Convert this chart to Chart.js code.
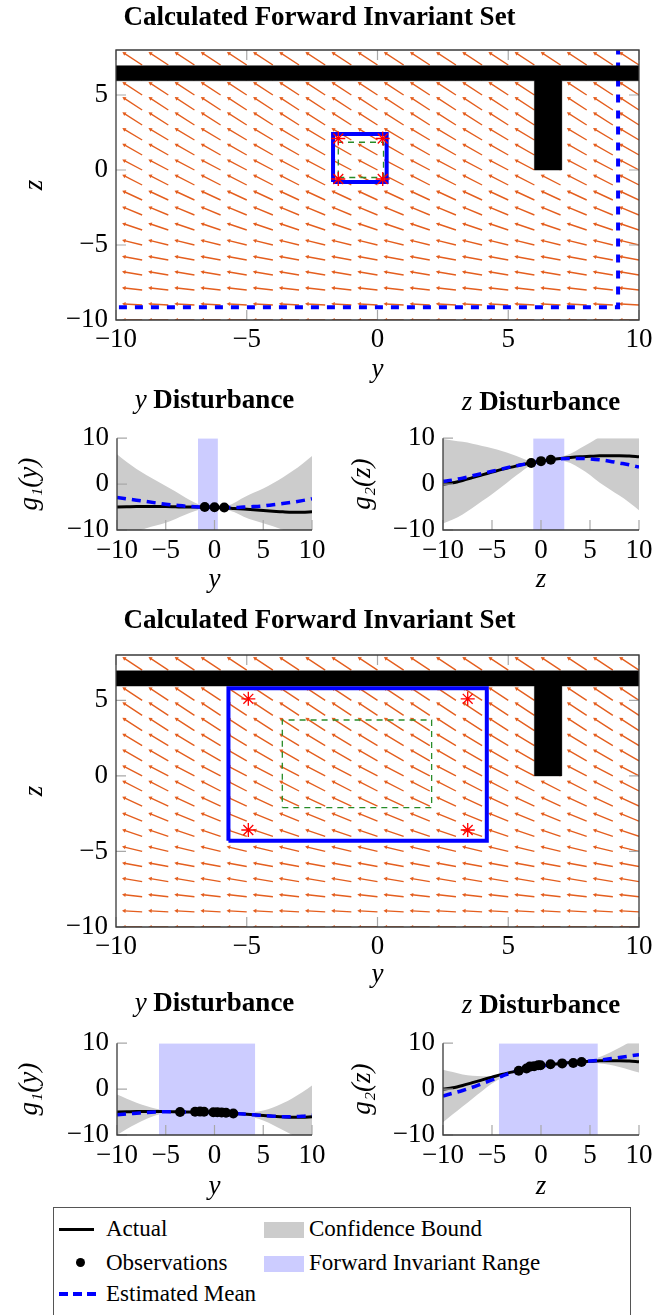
<!DOCTYPE html>
<html>
<head>
<meta charset="utf-8">
<script src="https://cdn.jsdelivr.net/npm/chart.js@4.4.1/dist/chart.umd.min.js"></script>
<style>
  body { margin: 0; background: #fff; }
  #page { position: relative; width: 668px; height: 1315px; overflow: hidden; font-family: 'Liberation Serif', serif; color: #000; }
  .box { position: absolute; }
  .ptitle { position: absolute; text-align: center; font-size: 27px; line-height: 30px; white-space: nowrap; }
  .ptitle b { font-weight: bold; }
  #legend { position: absolute; left: 53px; top: 1207px; width: 578px; height: 130px; border: 1px solid #555; box-sizing: border-box; font-size: 23px; }
  #legend .t { position: absolute; line-height: 28px; white-space: nowrap; }
  #legend .sw { position: absolute; }
</style>
</head>
<body>
<div id="page">
  <div class="box" style="left:0;top:0;width:668px;height:390px"><canvas id="inv1"></canvas></div>
  <div class="ptitle" style="left:117px;top:384px;width:195px"><i>y</i> <b>Disturbance</b></div>
  <div class="ptitle" style="left:443px;top:386px;width:196px"><i>z</i> <b>Disturbance</b></div>
  <div class="box" style="left:0;top:414px;width:334px;height:186px"><canvas id="g1a"></canvas></div>
  <div class="box" style="left:334px;top:414px;width:334px;height:186px"><canvas id="g2a"></canvas></div>

  <div class="box" style="left:0;top:603px;width:668px;height:394px"><canvas id="inv2"></canvas></div>
  <div class="ptitle" style="left:117px;top:987px;width:195px"><i>y</i> <b>Disturbance</b></div>
  <div class="ptitle" style="left:443px;top:989px;width:196px"><i>z</i> <b>Disturbance</b></div>
  <div class="box" style="left:0;top:1019px;width:334px;height:186px"><canvas id="g1b"></canvas></div>
  <div class="box" style="left:334px;top:1019px;width:334px;height:186px"><canvas id="g2b"></canvas></div>

  <div id="legend">
    <div class="sw" style="left:5px;top:20px;width:35px;height:3px;background:#000"></div>
    <div class="t" style="left:52px;top:7px">Actual</div>
    <div class="sw" style="left:22px;top:50px;width:9px;height:9px;border-radius:50%;background:#000"></div>
    <div class="t" style="left:52px;top:41px">Observations</div>
    <div class="sw" style="left:5px;top:84px;width:37px;height:4px;background:repeating-linear-gradient(to right,#0000ff 0 9px,transparent 9px 14px)"></div>
    <div class="t" style="left:52px;top:72px">Estimated Mean</div>
    <div class="sw" style="left:210px;top:14px;width:40px;height:16px;background:rgb(204,204,204)"></div>
    <div class="t" style="left:255px;top:7px">Confidence Bound</div>
    <div class="sw" style="left:210px;top:48px;width:40px;height:16px;background:rgb(204,204,255)"></div>
    <div class="t" style="left:255px;top:41px">Forward Invariant Range</div>
  </div>
</div>

<script>
// ---- quiver field (same for both invariant-set plots)
const quiverCols = [-9, -8, -7, -6, -5, -4, -3, -2, -1, 0, 1, 2, 3, 4, 5, 6, 7, 8, 9, 10];
const quiverRows = [-10, -9, -8, -7, -6, -5, -4, -3, -2, -1, 0, 1, 2, 3, 4, 5, 6, 7];
const quiverDz = [0, 0.07, 0.13, 0.2, 0.22, 0.29, 0.4, 0.49, 0.55, 0.61, 0.62, 0.67, 0.71, 0.76, 0.78, 0.78, 0.78, 0.78];
const quiverDy = -0.68;

// obstacle (T shape)
const barZ = [5.95, 6.95];
const stemY = [6, 7.04];
const stemBottom = 0;

// first run
const box1Y = [-1.7, 0.35];
const box1Z = [-0.8, 2.4];
const green1Y = [-1.5, 0.23];
const green1Z = [-0.5, 1.85];
const star1Y = [-1.5, 0.2];
const star1Z = [-0.6, 2.1];
const est1Y = [-10.5, 9.2];
const est1Z = [-9.15, 8.5];

// second run
const box2Y = [-5.7, 4.18];
const box2Z = [-4.3, 5.8];
const green2Y = [-3.64, 2.07];
const green2Z = [-2.1, 3.7];
const star2Y = [-4.94, 3.45];
const star2Z = [-3.58, 5.1];

// ---- disturbance plots
const xGrid = [-10, -9, -8, -7, -6, -5, -4, -3, -2, -1, 0, 1, 2, 3, 4, 5, 6, 7, 8, 9, 10];
const g1True = [-5.0, -4.95, -4.9, -4.9, -4.9, -4.9, -4.95, -5.0, -5.0, -5.05, -5.1, -5.15, -5.3, -5.45, -5.6, -5.75, -5.9, -6.05, -6.15, -6.15, -6.05];
const g2True = [0, 0.3, 0.8, 1.4, 2.0, 2.6, 3.2, 3.7, 4.2, 4.6, 5.0, 5.3, 5.6, 5.8, 5.95, 6.05, 6.15, 6.2, 6.2, 6.1, 5.95];

const g1MeanA = [-2.9, -3.2, -3.5, -3.8, -4.1, -4.4, -4.6, -4.8, -4.95, -5.0, -5.05, -5.1, -5.1, -5.0, -4.9, -4.75, -4.5, -4.25, -3.95, -3.6, -3.2];
const g1UpperA = [6.5, 4.8, 3.3, 2.0, 0.8, -0.4, -1.6, -2.9, -4.05, -4.75, -4.9, -4.85, -4.1, -2.9, -1.9, -0.95, 0.2, 1.45, 2.85, 4.4, 6.1];
const g1LowerA = [-12.3, -11.2, -10.3, -9.6, -9.0, -8.4, -7.6, -6.7, -5.85, -5.25, -5.2, -5.35, -6.1, -7.1, -7.9, -8.55, -9.2, -9.95, -10.75, -11.6, -12.5];
const g1ObsXA = [-1, 0, 1];
const g1ObsYA = [-5.0, -5.05, -5.1];

const g2MeanA = [0.6, 0.9, 1.3, 1.8, 2.3, 2.8, 3.3, 3.8, 4.2, 4.6, 5.0, 5.3, 5.5, 5.6, 5.6, 5.5, 5.3, 5.0, 4.6, 4.2, 3.7];
const g2UpperA = [9.8, 9.5, 9.2, 8.8, 8.3, 7.8, 7.2, 6.5, 5.7, 5.0, 5.2, 5.6, 5.9, 6.6, 7.8, 9.0, 10.3, 11.1, 11.7, 12.4, 13.1];
const g2LowerA = [-8.6, -7.7, -6.6, -5.2, -3.7, -2.2, -0.6, 1.1, 2.7, 4.2, 4.8, 5.0, 5.1, 4.6, 3.4, 2.0, 0.3, -1.1, -2.5, -4.0, -5.7];
const g2ObsXA = [-1, 0, 1];
const g2ObsYA = [4.6, 5.0, 5.3];

const g1MeanB = [-5.6, -5.4, -5.25, -5.1, -5.0, -4.95, -4.95, -5.0, -5.0, -5.05, -5.1, -5.15, -5.3, -5.45, -5.6, -5.75, -5.9, -6.0, -6.0, -5.9, -5.7];
const g1UpperB = [-1.2, -2.1, -2.95, -3.7, -4.3, -4.65, -4.8, -4.9, -4.9, -4.95, -5.0, -5.05, -5.2, -5.15, -5.0, -4.65, -4.0, -3.1, -2.0, -0.7, 0.8];
const g1LowerB = [-10.0, -8.7, -7.55, -6.5, -5.7, -5.25, -5.1, -5.1, -5.1, -5.15, -5.2, -5.25, -5.4, -5.75, -6.2, -6.85, -7.8, -8.9, -10.0, -11.1, -12.2];
const g1ObsXB = [-3.53, -1.99, -1.48, -1.07, -0.12, 0.29, 0.73, 1.18, 1.93];
const g1ObsYB = [-5.0, -4.95, -4.9, -4.95, -5.05, -5.05, -5.1, -5.15, -5.3];

const g2MeanB = [-1.5, -0.9, -0.3, 0.4, 1.2, 2.0, 2.8, 3.6, 4.2, 4.7, 5.0, 5.3, 5.6, 5.8, 5.9, 6.1, 6.3, 6.6, 6.9, 7.2, 7.5];
const g2UpperB = [4.2, 3.7, 3.2, 2.9, 2.8, 2.8, 3.1, 3.75, 4.3, 4.8, 5.1, 5.4, 5.7, 5.9, 6.0, 6.4, 7.0, 7.9, 9.0, 10.2, 11.4];
const g2LowerB = [-7.2, -5.5, -3.8, -2.1, -0.4, 1.2, 2.5, 3.45, 4.1, 4.6, 4.9, 5.2, 5.5, 5.7, 5.8, 5.8, 5.6, 5.3, 4.8, 4.2, 3.6];
const g2ObsXB = [-2.27, -1.48, -1.14, -0.7, -0.29, -0.05, 0.97, 2.16, 3.29, 4.14];
const g2ObsYB = [4.0, 4.5, 4.9, 5.0, 5.2, 5.2, 5.4, 5.6, 5.7, 5.9];

const xTicks = [-10, -5, 0, 5, 10];
const zTicksBig = [-10, -5, 0, 5];
const gTicks = [-10, 0, 10];

const FONT = "'Liberation Serif', serif";
Chart.defaults.font.family = FONT;
Chart.defaults.color = '#000';
const tickFont = { family: FONT, size: 27 };
const titleFont = { family: FONT, size: 27, style: 'italic' };
const fmt = (v) => String(v).replace('-', '\u2212');

const xy = (xs, ys) => xs.map((x, i) => ({ x: x, y: ys[i] }));
const rect = (xs, zs) => [
  { x: xs[0], y: zs[0] }, { x: xs[1], y: zs[0] }, { x: xs[1], y: zs[1] },
  { x: xs[0], y: zs[1] }, { x: xs[0], y: zs[0] }
];
const corners = (xs, zs) => [
  { x: xs[0], y: zs[0] }, { x: xs[1], y: zs[0] }, { x: xs[0], y: zs[1] }, { x: xs[1], y: zs[1] }
];

function quiverData() {
  const pts = [];
  quiverRows.forEach((z, r) => {
    quiverCols.forEach((y) => {
      pts.push({ x: y, y: z });
      pts.push({ x: y + quiverDy, y: z + quiverDz[r], head: true, tx: y, tz: z });
      pts.push({ x: y, y: null });
    });
  });
  return pts;
}

function obstacle() {
  return [
    { x: -11, y: barZ[1] }, { x: 11, y: barZ[1] }, { x: 11, y: barZ[0] },
    { x: stemY[1], y: barZ[0] }, { x: stemY[1], y: stemBottom }, { x: stemY[0], y: stemBottom },
    { x: stemY[0], y: barZ[0] }, { x: -11, y: barZ[0] }, { x: -11, y: barZ[1] }
  ];
}

// plot frame with inward ticks
const frameTicks = {
  id: 'frameTicks',
  afterDatasetsDraw(chart, args, opts) {
    const { ctx, chartArea: a, scales: { x, y } } = chart;
    ctx.save();
    ctx.strokeStyle = '#a8a8a8';
    ctx.lineWidth = 1.2;
    ctx.beginPath();
    x.ticks.forEach((t) => {
      const px = x.getPixelForValue(t.value);
      ctx.moveTo(px, a.bottom); ctx.lineTo(px, a.bottom - 10);
      if (opts.box) { ctx.moveTo(px, a.top); ctx.lineTo(px, a.top + 10); }
    });
    y.ticks.forEach((t) => {
      const py = y.getPixelForValue(t.value);
      ctx.moveTo(a.left, py); ctx.lineTo(a.left + 10, py);
      if (opts.box) { ctx.moveTo(a.right, py); ctx.lineTo(a.right - 10, py); }
    });
    ctx.stroke();
    ctx.strokeStyle = '#3a3a3a';
    ctx.lineWidth = 1.3;
    ctx.beginPath();
    if (opts.box) {
      ctx.rect(a.left, a.top, a.right - a.left, a.bottom - a.top);
    } else {
      ctx.moveTo(a.left, a.top); ctx.lineTo(a.left, a.bottom); ctx.lineTo(a.right, a.bottom);
    }
    ctx.stroke();
    ctx.restore();
  }
};

function scales(o) {
  return {
    x: {
      type: 'linear', min: -10, max: 10,
      afterBuildTicks: (s) => { s.ticks = xTicks.map((v) => ({ value: v })); },
      afterFit: (s) => { s.height = 70; },
      grid: { display: false, drawTicks: false },
      border: { display: false },
      ticks: { font: tickFont, color: '#000', padding: o.xPad, maxRotation: 0, autoSkip: false, callback: fmt },
      title: { display: true, text: o.xTitle, font: titleFont, color: '#000', padding: { top: 0, bottom: o.xTitlePad } }
    },
    y: {
      type: 'linear', min: o.yMin, max: o.yMax,
      afterBuildTicks: (s) => { s.ticks = o.yTicks.map((v) => ({ value: v })); },
      afterFit: (s) => { s.width = o.yWidth; },
      grid: { display: false, drawTicks: false },
      border: { display: false },
      ticks: { font: tickFont, color: '#000', padding: 8, autoSkip: false, callback: fmt },
      title: { display: true, text: o.yTitle, font: titleFont, color: '#000', padding: { top: o.yTitlePad, bottom: 0 } }
    }
  };
}

const arrowColor = 'rgb(228,94,30)';

function invariantChart(id, o) {
  const datasets = [
    { data: corners(o.starY, o.starZ), showLine: false, pointStyle: 'star', pointRadius: 7, borderColor: 'red', pointBorderColor: 'red', pointBorderWidth: 1.3 },
    { data: rect(o.boxY, o.boxZ), borderColor: '#0000ff', borderWidth: 4, borderJoinStyle: 'miter', pointRadius: 0 },
    { data: rect(o.greenY, o.greenZ), borderColor: 'rgb(40,140,40)', borderWidth: 1.3, borderDash: [6, 5], pointRadius: 0 },
    { data: obstacle(), fill: 'shape', backgroundColor: '#000', borderColor: '#000', borderWidth: 0.5, pointRadius: 0 }
  ];
  if (o.estY) {
    datasets.push({
      data: [{ x: o.estY[0], y: o.estZ[0] }, { x: o.estY[1], y: o.estZ[0] }, { x: o.estY[1], y: o.estZ[1] }],
      borderColor: '#0000ff', borderWidth: 4, borderDash: [8, 8], pointRadius: 0
    });
  }
  datasets.push({
    data: quiverData(),
    borderColor: arrowColor, borderWidth: 1.4, spanGaps: false,
    pointStyle: 'triangle',
    pointRadius: (c) => (c.raw && c.raw.head ? 2.4 : 0),
    pointBackgroundColor: arrowColor, pointBorderWidth: 0,
    pointRotation: (c) => {
      const r = c.raw;
      if (!r || !r.head) return 0;
      const sx = c.chart.scales.x, sy = c.chart.scales.y;
      const dx = sx.getPixelForValue(r.x) - sx.getPixelForValue(r.tx);
      const dy = sy.getPixelForValue(r.y) - sy.getPixelForValue(r.tz);
      return Math.atan2(dx, -dy) * 180 / Math.PI;
    }
  });
  return new Chart(document.getElementById(id), {
    type: 'line',
    data: { datasets: datasets },
    plugins: [frameTicks],
    options: {
      responsive: true, maintainAspectRatio: false, animation: false, events: [],
      layout: { padding: { top: 0, right: 29, bottom: 0, left: 0 } },
      plugins: {
        legend: { display: false }, tooltip: { enabled: false },
        title: { display: true, text: 'Calculated Forward Invariant Set', color: '#000', font: { family: FONT, size: 27, weight: 'bold' }, padding: { top: 2, bottom: o.titlePad } },
        frameTicks: { box: true }
      },
      scales: scales({ xTitle: 'y', yTitle: 'z', xPad: 4, xTitlePad: o.xTitlePad, yMin: -10, yMax: 8, yTicks: zTicksBig, yWidth: 116, yTitlePad: 19 })
    }
  });
}

function gpChart(id, o) {
  const smooth = { cubicInterpolationMode: 'monotone', pointRadius: 0 };
  return new Chart(document.getElementById(id), {
    type: 'line',
    data: {
      datasets: [
        { data: xy(o.obsX, o.obsY), showLine: false, pointRadius: 5, pointBackgroundColor: '#000', pointBorderWidth: 0 },
        Object.assign({ data: xy(xGrid, o.mean), borderColor: '#0000ff', borderWidth: 3.5, borderDash: [9, 6] }, smooth),
        Object.assign({ data: xy(xGrid, o.actual), borderColor: '#000', borderWidth: 3 }, smooth),
        { data: [{ x: o.range[0], y: 10 }, { x: o.range[1], y: 10 }], fill: { value: -10 }, backgroundColor: 'rgb(204,204,255)', borderColor: 'transparent', borderWidth: 0, pointRadius: 0 },
        Object.assign({ data: xy(xGrid, o.upper), fill: '+1', backgroundColor: 'rgb(204,204,204)', borderColor: 'transparent', borderWidth: 0 }, smooth),
        Object.assign({ data: xy(xGrid, o.lower), borderColor: 'transparent', borderWidth: 0 }, smooth)
      ]
    },
    plugins: [frameTicks],
    options: {
      responsive: true, maintainAspectRatio: false, animation: false, events: [],
      layout: { padding: { top: 20, right: o.padRight, bottom: 0, left: 0 } },
      plugins: { legend: { display: false }, tooltip: { enabled: false }, frameTicks: { box: false } },
      scales: scales({ xTitle: o.xTitle, yTitle: o.yTitle, xPad: 5, xTitlePad: o.xTitlePad, yMin: -10, yMax: 10, yTicks: gTicks, yWidth: o.yWidth, yTitlePad: o.yTitlePad })
    }
  });
}

invariantChart('inv1', { boxY: box1Y, boxZ: box1Z, greenY: green1Y, greenZ: green1Z, starY: star1Y, starZ: star1Z, estY: est1Y, estZ: est1Z, titlePad: 15.6, xTitlePad: 4 });
invariantChart('inv2', { boxY: box2Y, boxZ: box2Z, greenY: green2Y, greenZ: green2Z, starY: star2Y, starZ: star2Z, titlePad: 17.6, xTitlePad: 6 });

gpChart('g1a', { mean: g1MeanA, upper: g1UpperA, lower: g1LowerA, actual: g1True, obsX: g1ObsXA, obsY: g1ObsYA, range: box1Y, xTitle: 'y', yTitle: 'g\u2081(y)', yWidth: 117, yTitlePad: 14, padRight: 22, xTitlePad: 4 });
gpChart('g2a', { mean: g2MeanA, upper: g2UpperA, lower: g2LowerA, actual: g2True, obsX: g2ObsXA, obsY: g2ObsYA, range: box1Z, xTitle: 'z', yTitle: 'g\u2082(z)', yWidth: 109, yTitlePad: 13, padRight: 29, xTitlePad: 4 });
gpChart('g1b', { mean: g1MeanB, upper: g1UpperB, lower: g1LowerB, actual: g1True, obsX: g1ObsXB, obsY: g1ObsYB, range: box2Y, xTitle: 'y', yTitle: 'g\u2081(y)', yWidth: 117, yTitlePad: 14, padRight: 22, xTitlePad: 2 });
gpChart('g2b', { mean: g2MeanB, upper: g2UpperB, lower: g2LowerB, actual: g2True, obsX: g2ObsXB, obsY: g2ObsYB, range: box2Z, xTitle: 'z', yTitle: 'g\u2082(z)', yWidth: 109, yTitlePad: 13, padRight: 29, xTitlePad: 2 });
</script>
</body>
</html>
